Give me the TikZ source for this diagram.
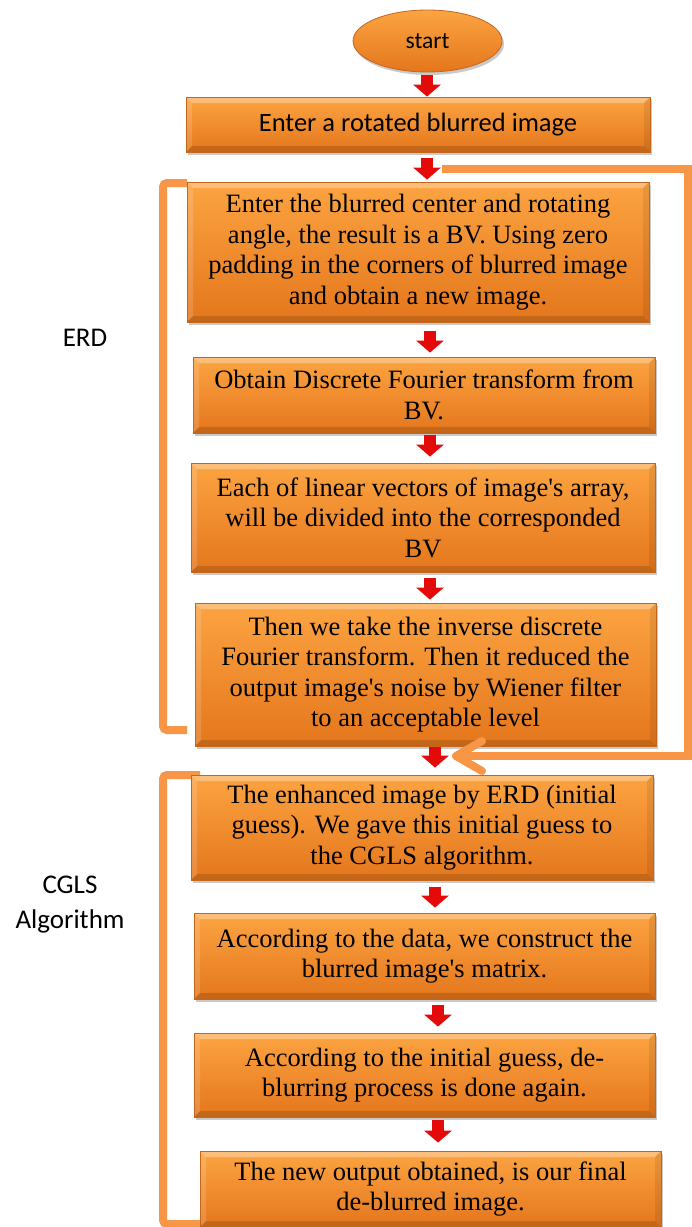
\documentclass[tikz,border=0pt]{standalone}
\usepackage{fontspec}
\setmainfont{Liberation Serif}[Ligatures=TeXOff]
\newfontfamily\calibfont{Carlito}
\usetikzlibrary{shapes.geometric,arrows.meta,shadows}
\definecolor{boxtop}{RGB}{252,164,66}
\definecolor{boxbot}{RGB}{228,118,28}
\definecolor{boxline}{RGB}{196,102,28}
\definecolor{loopc}{RGB}{247,150,70}
\definecolor{arrred}{RGB}{228,10,10}
\tikzset{
  bevel/.style={path picture={
    \fill[white,opacity=0.30] (path picture bounding box.north west) -- (path picture bounding box.north east) -- ([xshift=-6pt,yshift=-6pt]path picture bounding box.north east) -- ([xshift=6pt,yshift=-6pt]path picture bounding box.north west) -- cycle;
    \fill[white,opacity=0.15] (path picture bounding box.north west) -- (path picture bounding box.south west) -- ([xshift=6pt,yshift=6pt]path picture bounding box.south west) -- ([xshift=6pt,yshift=-6pt]path picture bounding box.north west) -- cycle;
    \fill[black,opacity=0.14] (path picture bounding box.south west) -- (path picture bounding box.south east) -- ([xshift=-6pt,yshift=6pt]path picture bounding box.south east) -- ([xshift=6pt,yshift=6pt]path picture bounding box.south west) -- cycle;
    \fill[black,opacity=0.08] (path picture bounding box.north east) -- (path picture bounding box.south east) -- ([xshift=-6pt,yshift=6pt]path picture bounding box.south east) -- ([xshift=-6pt,yshift=-6pt]path picture bounding box.north east) -- cycle;
  }},
  stepbox/.style={draw=boxline, line width=0.8pt, top color=boxtop, bottom color=boxbot,
    inner sep=0pt, align=center, font=\fontsize{26.5}{30.5}\selectfont,
    drop shadow={shadow xshift=2pt,shadow yshift=-3pt,opacity=0.35,fill=black!60}, bevel},
  startnode/.style={ellipse, draw=boxline, line width=0.8pt, top color=boxtop, bottom color=boxbot,
    inner sep=0pt, minimum width=149pt, minimum height=62pt, font=\calibfont\fontsize{23.5}{28}\selectfont,
    drop shadow={shadow xshift=2pt,shadow yshift=-3pt,opacity=0.35,fill=black!60}},
  lab/.style={align=center, font=\calibfont\fontsize{27}{35}\selectfont},
  redarr/.style={draw=arrred, line width=12pt, -{Triangle[width=27pt,length=12pt,fill=arrred]}},
  loopline/.style={draw=loopc, line width=8pt, -{Straight Barb[length=26pt,width=30pt,round]}},
  bracket/.style={draw=loopc, line width=8pt, rounded corners=4pt}
}
\begin{document}
\begin{tikzpicture}[x=1pt,y=-1pt]
\fill[white] (0,0) rectangle (692,1227);
\useasboundingbox (0,0) rectangle (692,1227);

% brackets
\draw[bracket] (187,183) -- (163,183) -- (163,730) -- (187,730);
\draw[bracket] (200,775) -- (163,775) -- (163,1224) -- (200,1224);

% nodes
\node[startnode] (st) at (427.5,41) {start};
\node[stepbox, minimum width=464pt, minimum height=55pt, font=\calibfont\fontsize{26.5}{30}\selectfont] (b1) at (418,124.5) {Enter a rotated blurred image};
\node[stepbox, minimum width=462pt, minimum height=140pt] (b2) at (418,252) {Enter the blurred center and rotating\\angle, the result is a BV. Using zero\\padding in the corners of blurred image\\and obtain a new image.};
\node[stepbox, minimum width=462pt, minimum height=76pt] (b3) at (424,395) {Obtain Discrete Fourier transform from\\BV.};
\node[stepbox, minimum width=464pt, minimum height=109pt] (b4) at (423,517.5) {Each of linear vectors of image's array,\\will be divided into the corresponded\\BV};
\node[stepbox, minimum width=461pt, minimum height=143pt] (b5) at (425.5,674.5) {Then we take the inverse discrete\\Fourier transform. Then it reduced the\\output image's noise by Wiener filter\\to an acceptable level};
\node[stepbox, minimum width=462pt, minimum height=105pt] (b6) at (422,827.5) {The enhanced image by ERD (initial\\guess). We gave this initial guess to\\the CGLS algorithm.};
\node[stepbox, minimum width=461pt, minimum height=86pt] (b7) at (424.5,956) {According to the data, we construct the\\blurred image's matrix.};
\node[stepbox, minimum width=461pt, minimum height=84pt] (b8) at (424.5,1075) {According to the initial guess, de-\\blurring process is done again.};
\node[stepbox, minimum width=461pt, minimum height=76pt] (b9) at (430.5,1189) {The new output obtained, is our final\\de-blurred image.};

\node[lab] (erd) at (85,338) {ERD};
\node[lab] (cgls) at (70,905) {CGLS\\Algorithm};

% red arrows
\draw[redarr, shorten <=3pt] (st.south -| 427,0) -- (b1.north -| 427,0);
\draw[redarr, shorten <=6pt, shorten >=2pt] (b1.south -| 427,0) -- (b2.north -| 427,0);
\draw[redarr, shorten <=9pt, shorten >=4pt] (b2.south -| 430,0) -- (b3.north -| 430,0);
\draw[redarr, shorten <=2pt, shorten >=6pt] (b3.south -| 430,0) -- (b4.north -| 430,0);
\draw[redarr, shorten <=6pt, shorten >=3pt] (b4.south -| 430,0) -- (b5.north -| 430,0);
\draw[redarr, shorten <=1pt, shorten >=7pt] (b5.south -| 435,0) -- (b6.north -| 435,0);
\draw[redarr, shorten <=7pt, shorten >=5pt] (b6.south -| 435,0) -- (b7.north -| 435,0);
\draw[redarr, shorten <=6pt, shorten >=6pt] (b7.south -| 438,0) -- (b8.north -| 438,0);
\draw[redarr, shorten <=3pt, shorten >=8pt] (b8.south -| 438,0) -- (b9.north -| 438,0);

% loop connector
\coordinate (la) at (442,169);
\coordinate (lb) at (452,756);
\draw[loopline] (la) -- (688,169) -- (688,756) -- (lb);
\end{tikzpicture}
\end{document}
